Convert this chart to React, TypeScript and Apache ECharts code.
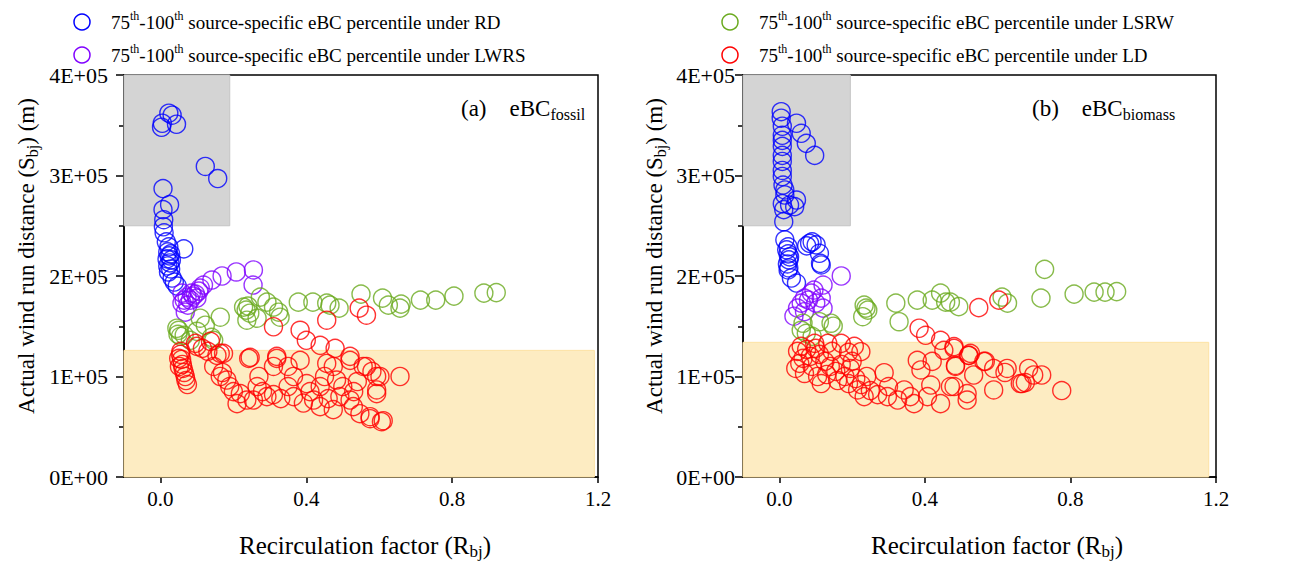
import React, { useEffect, useRef } from "react";
import * as echarts from "echarts";

const FONT = '"Liberation Serif", "Times New Roman", Times, serif';

const SERIES_NAMES = ["RD", "LWRS", "LSRW", "LD"];
const SERIES_COLORS = ["#0000ff", "#8000ff", "#6aaa1e", "#ff0000"];

const xTicks = [0, 0.4, 0.8, 1.2];
const yTicks = [0, 100000, 200000, 300000, 400000];

// Panel (a) eBC fossil
const fossilRD: number[][] = [
  [0.023, 362000], [0.032, 360000], [0.005, 352000], [0.003, 348000], [0.044, 351000],
  [0.123, 309000], [0.157, 297000], [0.007, 287000], [0.025, 271000], [0.007, 266000],
  [0.009, 256000], [0.008, 249000], [0.010, 243000], [0.016, 234000], [0.023, 229000],
  [0.064, 227000], [0.020, 224000], [0.024, 220000], [0.018, 217000], [0.026, 213000],
  [0.020, 210000], [0.028, 207000], [0.022, 204000], [0.032, 198000], [0.046, 190000],
  [0.038, 194000], [0.028, 222000], [0.030, 216000],
];
const fossilLWRS: number[][] = [
  [0.059, 183000], [0.073, 179000], [0.082, 176000], [0.090, 180000], [0.096, 182000],
  [0.109, 188000], [0.118, 191000], [0.141, 196000], [0.169, 200000], [0.208, 204000],
  [0.255, 206000], [0.254, 191000], [0.068, 164000], [0.059, 173000], [0.075, 171000],
  [0.100, 178000], [0.105, 185000], [0.065, 176000], [0.085, 183000],
];
const fossilLSRW: number[][] = [
  [0.228, 169000], [0.235, 166000], [0.240, 170000], [0.245, 163000], [0.274, 179000],
  [0.292, 174000], [0.310, 169000], [0.324, 164000], [0.328, 159000], [0.265, 158000],
  [0.237, 156000], [0.164, 159000], [0.109, 158000], [0.123, 151000], [0.050, 146000],
  [0.048, 142000], [0.055, 140000], [0.065, 141000], [0.082, 136000], [0.140, 139000],
  [0.146, 136000], [0.378, 174000], [0.418, 174000], [0.456, 173000], [0.490, 168000],
  [0.465, 171000], [0.550, 182000], [0.609, 178000], [0.625, 171000], [0.657, 168000],
  [0.660, 172000], [0.713, 176000], [0.755, 176000], [0.805, 180000], [0.887, 183000],
  [0.921, 183500], [0.045, 148000], [0.100, 145000],
];
const fossilLD: number[][] = [
  [0.055, 122000], [0.058, 117000], [0.060, 112000], [0.062, 108000], [0.065, 104000],
  [0.068, 100000], [0.070, 96000], [0.074, 92000], [0.050, 118000], [0.052, 110000],
  [0.056, 125000], [0.100, 130000], [0.137, 135000], [0.096, 133000], [0.155, 121000],
  [0.164, 123000], [0.146, 110000], [0.170, 104000], [0.182, 96500], [0.190, 90000],
  [0.164, 100000], [0.246, 119000], [0.219, 83000], [0.237, 76600], [0.210, 73000],
  [0.265, 90000], [0.255, 76600], [0.292, 80000], [0.310, 82000], [0.330, 78000],
  [0.365, 80000], [0.310, 110000], [0.319, 120000], [0.383, 116000], [0.401, 93000],
  [0.420, 76600], [0.438, 90000], [0.456, 113000], [0.474, 110000], [0.483, 96500],
  [0.492, 80000], [0.520, 76600], [0.529, 70000], [0.547, 63000], [0.575, 58000],
  [0.611, 56000], [0.602, 100000], [0.593, 86600], [0.556, 110000], [0.520, 116000],
  [0.657, 100000], [0.365, 100000], [0.438, 70000], [0.474, 67000], [0.392, 73600],
  [0.310, 149500], [0.383, 146000], [0.400, 136000], [0.438, 131000], [0.456, 156000],
  [0.479, 128000], [0.520, 120000], [0.545, 168000], [0.565, 161000], [0.242, 118000],
  [0.173, 123000], [0.319, 118000], [0.593, 83000], [0.593, 100000], [0.565, 110000],
  [0.606, 55000], [0.575, 60000], [0.200, 85000], [0.280, 85000], [0.350, 90000],
  [0.410, 85000], [0.450, 100000], [0.500, 90000], [0.540, 95000], [0.580, 105000],
  [0.530, 85000], [0.460, 78000], [0.130, 125000], [0.115, 128000], [0.350, 110000],
  [0.270, 100000],
];

// Panel (b) eBC biomass
const biomassRD: number[][] = [
  [0.005, 363500], [0.005, 357000], [0.008, 349000], [0.008, 340000], [0.008, 335000],
  [0.008, 329000], [0.008, 320000], [0.008, 314000], [0.008, 305000], [0.008, 299000],
  [0.010, 290500], [0.015, 285600], [0.015, 280600], [0.008, 272000], [0.028, 270600],
  [0.047, 275600], [0.042, 269000], [0.012, 266000], [0.012, 254000], [0.047, 352000],
  [0.060, 342000], [0.074, 332000], [0.097, 320000], [0.015, 236000], [0.024, 229000],
  [0.024, 222000], [0.026, 216000], [0.022, 212000], [0.026, 208000], [0.024, 206000],
  [0.033, 198000], [0.083, 232500], [0.101, 231000], [0.110, 222600], [0.113, 212600],
  [0.090, 234000], [0.075, 230000], [0.115, 211000], [0.047, 193000], [0.020, 226000],
  [0.028, 219000],
];
const biomassLWRS: number[][] = [
  [0.170, 200000], [0.120, 191000], [0.088, 183000], [0.115, 178000], [0.069, 178000],
  [0.060, 173000], [0.100, 173000], [0.120, 168000], [0.069, 164500], [0.050, 168000],
  [0.095, 186000], [0.080, 176000], [0.040, 160000],
];
const biomassLSRW: number[][] = [
  [0.142, 153000], [0.148, 150000], [0.065, 153000], [0.074, 143000], [0.110, 154500],
  [0.233, 171000], [0.243, 166000], [0.229, 159500], [0.238, 168000], [0.320, 173000],
  [0.329, 154500], [0.379, 176000], [0.420, 176000], [0.443, 183000], [0.457, 174000],
  [0.470, 174000], [0.493, 169500], [0.612, 179000], [0.627, 173000], [0.729, 206600],
  [0.719, 178000], [0.810, 182000], [0.865, 184000], [0.895, 184000], [0.927, 184500],
  [0.060, 146000], [0.090, 140000],
];
const biomassLD: number[][] = [
  [0.548, 168500], [0.603, 176000], [0.384, 148000], [0.402, 141000], [0.443, 136000],
  [0.480, 129700], [0.525, 123000], [0.480, 128000], [0.521, 121000], [0.562, 115000],
  [0.589, 108000], [0.626, 108000], [0.534, 101500], [0.484, 110000], [0.480, 90000],
  [0.516, 83000], [0.516, 76600], [0.589, 86600], [0.685, 108000], [0.699, 101500],
  [0.721, 101500], [0.667, 93000], [0.676, 94000], [0.776, 86000], [0.288, 103800],
  [0.297, 80000], [0.325, 76600], [0.343, 86600], [0.370, 73000], [0.360, 80000],
  [0.407, 80000], [0.416, 91500], [0.443, 73000], [0.389, 106500], [0.379, 116000],
  [0.420, 115000], [0.452, 126000], [0.484, 111000], [0.470, 90000], [0.520, 121000],
  [0.566, 115000], [0.662, 93000], [0.620, 104000], [0.060, 130000], [0.097, 133000],
  [0.133, 133000], [0.170, 133000], [0.206, 130000], [0.224, 124700], [0.056, 113000],
  [0.069, 103000], [0.115, 93000], [0.160, 96000], [0.190, 93000], [0.215, 86600],
  [0.233, 80000], [0.250, 86000], [0.050, 125000], [0.075, 127000], [0.085, 120000],
  [0.110, 122000], [0.125, 115000], [0.140, 110000], [0.155, 105000], [0.170, 112000],
  [0.180, 100000], [0.195, 108000], [0.210, 98000], [0.225, 92000], [0.045, 108000],
  [0.090, 110000], [0.105, 100000], [0.130, 102000], [0.145, 125000], [0.190, 124000],
  [0.200, 115000], [0.065, 118000], [0.100, 128000], [0.240, 100000], [0.270, 82000],
  [0.300, 90000],
];

const fossilSets = [fossilRD, fossilLWRS, fossilLSRW, fossilLD];
const biomassSets = [biomassRD, biomassLWRS, biomassLSRW, biomassLD];

// shaded zones [xMin, yMin, xMax, yMax]
const greyZoneA = [-0.1, 250000, 0.19, 400000];
const orangeZoneA = [-0.1, 0, 1.19, 126000];
const greyZoneB = [-0.1, 250000, 0.195, 400000];
const orangeZoneB = [-0.1, 0, 1.18, 134000];

const rich = {
  n: { fontFamily: FONT, fontSize: 19, color: "#000", lineHeight: 24 },
  sup: { fontFamily: FONT, fontSize: 12, color: "#000", verticalAlign: "top", lineHeight: 24 },
  t: { fontFamily: FONT, fontSize: 23, color: "#000", lineHeight: 28 },
  tsub: { fontFamily: FONT, fontSize: 16, color: "#000", verticalAlign: "bottom", lineHeight: 28 },
  x: { fontFamily: FONT, fontSize: 25, color: "#000", lineHeight: 30 },
  xsub: { fontFamily: FONT, fontSize: 17, color: "#000", verticalAlign: "bottom", lineHeight: 30 },
};

function legendText(name: string) {
  return `{n|75}{sup|th}{n|-100}{sup|th}{n| source-specific eBC percentile under ${name}}`;
}

export default function App() {
  const ref = useRef<HTMLDivElement>(null);
  useEffect(() => {
    if (!ref.current) return;
    const chart = echarts.init(ref.current, null, { renderer: "svg" });

    const gridCommon = { show: true, borderColor: "#000", borderWidth: 1.5, backgroundColor: "transparent" };
    const xAxisCommon = (gi: number) => ({
      type: "value",
      gridIndex: gi,
      min: -0.1,
      max: 1.2,
      axisLine: { show: true, onZero: false, lineStyle: { color: "#000", width: 1.5 } },
      axisTick: { show: true, inside: false, length: 6, customValues: xTicks, lineStyle: { color: "#000", width: 1.5 } },
      axisLabel: {
        customValues: xTicks,
        formatter: (v: number) => v.toFixed(1),
        fontFamily: FONT,
        fontSize: 21,
        color: "#000",
        margin: 11,
      },
      splitLine: { show: false },
    });
    const yAxisCommon = (gi: number, margin: number) => ({
      type: "value",
      gridIndex: gi,
      min: yTicks[0],
      max: yTicks[yTicks.length - 1],
      interval: 100000,
      axisLine: { show: true, onZero: false, lineStyle: { color: "#000", width: 1.5 } },
      axisTick: { show: true, inside: false, length: 8, lineStyle: { color: "#000", width: 1.5 } },
      minorTick: { show: true, splitNumber: 2, length: 5, lineStyle: { color: "#000", width: 1.5 } },
      axisLabel: {
        formatter: (v: number) => (v === 0 ? "0E+00" : `${Math.round(v / 100000)}E+05`),
        fontFamily: FONT,
        fontSize: 22,
        color: "#000",
        margin,
      },
      splitLine: { show: false },
    });

    const zoneSeries = (gi: number, grey: number[], orange: number[]) => ({
      type: "scatter",
      name: "zones" + gi,
      xAxisIndex: gi,
      yAxisIndex: gi,
      data: [],
      silent: true,
      markArea: {
        silent: true,
        data: [
          [
            { coord: [grey[0], grey[1]], itemStyle: { color: "#d4d4d4", borderColor: "#c4c4c4", borderWidth: 1 } },
            { coord: [grey[2], grey[3]] },
          ],
          [
            { coord: [orange[0], orange[1]], itemStyle: { color: "#fdecc2", borderColor: "#fde2a4", borderWidth: 1 } },
            { coord: [orange[2], orange[3]] },
          ],
        ],
      },
    });

    const pointSeries = (gi: number, sets: number[][][]) =>
      sets.map((d, i) => ({
        type: "scatter",
        name: SERIES_NAMES[i],
        xAxisIndex: gi,
        yAxisIndex: gi,
        data: d,
        symbol: "circle",
        symbolSize: 18,
        itemStyle: { color: "transparent", borderColor: SERIES_COLORS[i], borderWidth: 1.4 },
      }));

    const legendGraphic = (x: number, y: number, idx: number) => [
      {
        type: "circle",
        shape: { cx: x, cy: y, r: 8 },
        style: { fill: "none", stroke: SERIES_COLORS[idx], lineWidth: 1.5 },
      },
      {
        type: "text",
        x: x + 29,
        y: y,
        style: { text: legendText(SERIES_NAMES[idx]), rich, fontFamily: FONT, verticalAlign: "middle", align: "left" },
      },
    ];

    const titleText = (x: number, y: number, text: string, rotate: boolean, align = "center") => ({
      type: "text",
      x,
      y,
      rotation: rotate ? Math.PI / 2 : 0,
      style: { text, rich, fontFamily: FONT, verticalAlign: "middle", align },
    });

    const option = {
      animation: false,
      backgroundColor: "#fff",
      textStyle: { fontFamily: FONT },
      grid: [
        { ...gridCommon, left: 124, top: 75, width: 474, height: 402 },
        { ...gridCommon, left: 743, top: 75, width: 473, height: 402 },
      ],
      xAxis: [xAxisCommon(0), xAxisCommon(1)],
      yAxis: [yAxisCommon(0, 16), yAxisCommon(1, 8)],
      series: [
        zoneSeries(0, greyZoneA, orangeZoneA),
        zoneSeries(1, greyZoneB, orangeZoneB),
        ...pointSeries(0, fossilSets),
        ...pointSeries(1, biomassSets),
      ],
      graphic: [
        ...legendGraphic(82, 22, 0),
        ...legendGraphic(82, 55, 1),
        ...legendGraphic(730, 22, 2),
        ...legendGraphic(730, 55, 3),
        titleText(461, 108, "{t|(a)    eBC}{tsub|fossil}", false, "left"),
        titleText(1032, 108, "{t|(b)    eBC}{tsub|biomass}", false, "left"),
        titleText(26, 256, "{t|Actual wind run distance (S}{tsub|bj}{t|) (m)}", true),
        titleText(654, 256, "{t|Actual wind run distance (S}{tsub|bj}{t|) (m)}", true),
        titleText(365, 545, "{x|Recirculation factor (R}{xsub|bj}{x|)}", false),
        titleText(997, 545, "{x|Recirculation factor (R}{xsub|bj}{x|)}", false),
      ],
    };

    chart.setOption(option as any);
    return () => chart.dispose();
  }, []);

  return (
    <div
      ref={ref}
      style={{ position: "fixed", left: 0, top: 0, width: 1292, height: 563, background: "#fff" }}
    />
  );
}
